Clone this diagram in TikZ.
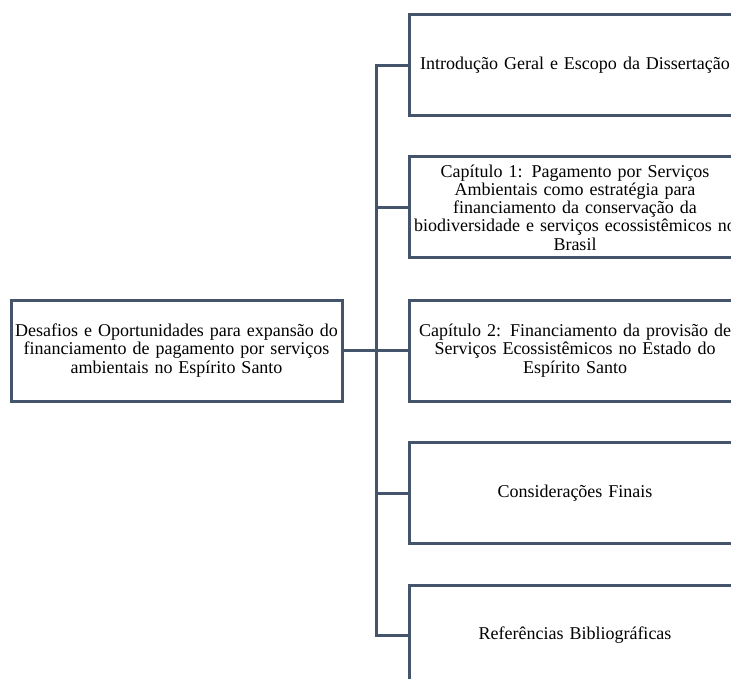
\documentclass[tikz,border=0pt]{standalone}
\usepackage{fontspec}
\setmainfont{Liberation Serif}
\definecolor{ardoise}{HTML}{44546A}
\tikzset{bloc/.style = {rectangle, draw = ardoise, line width = 3,
                        inner xsep = 0, inner ysep = 2,
                        text width = #1, minimum height = 101, align = center,
                        font = \fontsize{18}{18.3}\selectfont},
         bloc/.default = 332pt,
         lien/.style = {draw = ardoise, line width = 3}
        }

\begin{document}
\begin{tikzpicture}[x=1pt, y=-1pt]
  \useasboundingbox (0,0) rectangle (731,679);
  \clip (0,0) rectangle (731,679);
  \node[bloc = 331pt] (racine) at (176.5, 350.5)
    {\mbox{Desafios e Oportunidades para expansão do}\\financiamento de pagamento por serviços\\ambientais no Espírito Santo};
  \node[bloc] (intro) at (575, 65.5) {\mbox{Introdução Geral e Escopo da Dissertação}};
  \node[bloc] (cap1) at (575, 207.5)
    {Capítulo 1: Pagamento por Serviços\\Ambientais como estratégia para\\financiamento da conservação da\\\mbox{biodiversidade e serviços ecossistêmicos no}\\Brasil};
  \node[bloc] (cap2) at (575, 350.5)
    {\mbox{Capítulo 2: Financiamento da provisão de}\\Serviços Ecossistêmicos no Estado do\\Espírito Santo};
  \node[bloc] (consid) at (575, 493) {Considerações Finais};
  \node[bloc] (refs) at (575, 635.5) {Referências Bibliográficas};
  \coordinate (tronc) at (376, 350.5);
  \draw[lien] (racine.east) -- (tronc);
  \draw[lien] (tronc) |- (intro.west);
  \draw[lien] (tronc) |- (cap1.west);
  \draw[lien] (tronc) -- (cap2.west);
  \draw[lien] (tronc) |- (consid.west);
  \draw[lien] (tronc) |- (refs.west);
\end{tikzpicture}
\end{document}
